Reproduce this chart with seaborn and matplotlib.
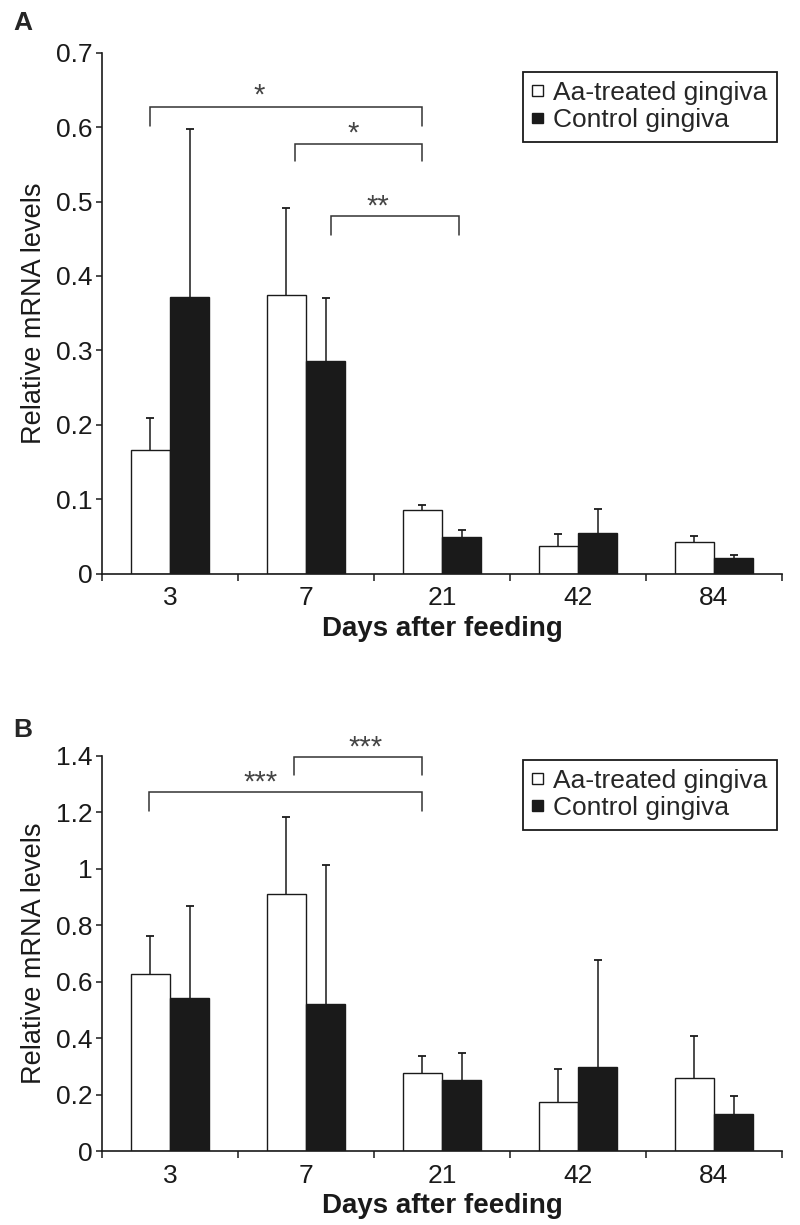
import numpy as np
import pandas as pd
import matplotlib
matplotlib.use("Agg")
import matplotlib.pyplot as plt
from matplotlib.patches import Patch
import seaborn as sns

# ---- data ----
days = ["3", "7", "21", "42", "84"]
groups = ["Aa-treated gingiva", "Control gingiva"]

a_treated = [0.166, 0.374, 0.086, 0.037, 0.042]
a_treated_sd = [0.043, 0.118, 0.006, 0.016, 0.009]
a_control = [0.372, 0.286, 0.049, 0.054, 0.021]
a_control_sd = [0.225, 0.085, 0.009, 0.033, 0.004]

b_treated = [0.626, 0.910, 0.276, 0.174, 0.257]
b_treated_sd = [0.137, 0.273, 0.060, 0.117, 0.151]
b_control = [0.541, 0.522, 0.252, 0.299, 0.132]
b_control_sd = [0.327, 0.491, 0.094, 0.379, 0.064]

a_yticks = [0, 0.1, 0.2, 0.3, 0.4, 0.5, 0.6, 0.7]
a_yticklabels = ["0", "0.1", "0.2", "0.3", "0.4", "0.5", "0.6", "0.7"]
b_yticks = [0, 0.2, 0.4, 0.6, 0.8, 1.0, 1.2, 1.4]
b_yticklabels = ["0", "0.2", "0.4", "0.6", "0.8", "1", "1.2", "1.4"]

# significance brackets: (x start, x end, y, leg bottom, star x, star y, text)
a_brackets = [
    (-0.1435, 1.8565, 0.627, 0.602, 0.654, 0.654, "*"),
    (0.919, 1.8565, 0.578, 0.554, 1.346, 0.603, "*"),
    (1.184, 2.125, 0.480, 0.455, 1.529, 0.505, "**"),
]
b_brackets = [
    (-0.154, 1.853, 1.271, 1.204, 0.662, 1.338, "***"),
    (0.912, 1.853, 1.398, 1.334, 1.441, 1.462, "***"),
]

INK = "#1a1a1a"
FS = 19

sns.set_theme(style="ticks")
plt.rcParams["font.family"] = ["Liberation Sans", "DejaVu Sans"]


def draw_panel(ax, treated, treated_sd, control, control_sd, yticks, yticklabels, brackets):
    df = pd.DataFrame({
        "day": days * 2,
        "group": [groups[0]] * len(days) + [groups[1]] * len(days),
        "value": treated + control,
    })
    sns.barplot(data=df, x="day", y="value", hue="group", order=days, hue_order=groups,
                palette=["white", INK], saturation=1, edgecolor=INK, linewidth=1.0,
                width=0.574, errorbar=None, legend=False, ax=ax)

    # one-sided (upper) error bars with a cap only at the top
    bars = ax.patches[:2 * len(days)]
    xs = np.array([p.get_x() + p.get_width() / 2 for p in bars])
    tops = np.array([p.get_height() for p in bars])
    sds = np.array(treated_sd + control_sd)
    ax.errorbar(xs, tops, yerr=[np.zeros(len(sds)), sds], fmt="none",
                ecolor=INK, elinewidth=1.1, capsize=0, zorder=3)
    ax.plot(xs, tops + sds, ls="none", marker="_", ms=5.5, mew=1.3, color=INK, zorder=3)

    for x0, x1, y, leg, sx, sy, txt in brackets:
        ax.plot([x0, x0, x1, x1], [leg, y, y, leg], color="#333333", lw=1.1,
                solid_joinstyle="miter", clip_on=False)
        ax.annotate(txt, xy=(sx, sy), xytext=(0, -6.5), textcoords="offset points",
                    ha="center", va="center", fontsize=21, color="#444444",
                    annotation_clip=False)

    ax.set_xlim(-0.5, len(days) - 0.5)
    ax.set_ylim(yticks[0], yticks[-1])
    ax.set_yticks(yticks)
    ax.set_yticklabels(yticklabels, fontsize=FS)
    ax.set_xticks(range(len(days)))
    ax.set_xticklabels(days, fontsize=FS)
    ax.set_xticks(np.arange(-0.5, len(days)), minor=True)
    ax.tick_params(axis="x", which="major", length=0, pad=9, colors=INK)
    ax.tick_params(axis="x", which="minor", length=5, width=1.1, direction="out", color=INK)
    ax.tick_params(axis="y", length=4, width=1.1, direction="out", pad=3, colors=INK)

    sns.despine(ax=ax)
    for s in ("left", "bottom"):
        ax.spines[s].set_linewidth(1.2)
        ax.spines[s].set_color(INK)

    ax.set_ylabel("Relative mRNA levels", fontsize=19.5, color=INK, va="center")
    ax.yaxis.set_label_coords(-0.1, 0.5)
    ax.set_xlabel("Days after feeding", fontsize=20, fontweight="bold",
                  color=INK, va="center")

    handles = [Patch(facecolor="white", edgecolor=INK, lw=1.0, label=groups[0]),
               Patch(facecolor=INK, edgecolor=INK, lw=1.0, label=groups[1])]
    return handles


def add_legend(ax, handles, top):
    leg = ax.legend(handles=handles, loc="upper right", bbox_to_anchor=(0.9926, top),
                    borderaxespad=0, fancybox=False, framealpha=1, edgecolor=INK,
                    fontsize=FS, handlelength=0.4, handleheight=0.24, handletextpad=0.4,
                    borderpad=0.35, labelspacing=0.12)
    leg.get_frame().set_linewidth(1.3)


fig = plt.figure(figsize=(8, 12.25), dpi=100)
ax_a = fig.add_axes([0.1275, 0.5318, 0.85, 0.4251])
ax_b = fig.add_axes([0.1275, 0.0604, 0.85, 0.3225])

h = draw_panel(ax_a, a_treated, a_treated_sd, a_control, a_control_sd,
               a_yticks, a_yticklabels, a_brackets)
ax_a.xaxis.set_label_coords(0.5, -55 / 520.8)
add_legend(ax_a, h, 0.963)

h = draw_panel(ax_b, b_treated, b_treated_sd, b_control, b_control_sd,
               b_yticks, b_yticklabels, b_brackets)
ax_b.xaxis.set_label_coords(0.5, -55 / 395)
add_legend(ax_b, h, 0.99)

fig.text(23 / 800, 1 - 23 / 1225, "A", fontsize=19, fontweight="bold", ha="center", va="center")
fig.text(23 / 800, 1 - 730 / 1225, "B", fontsize=19, fontweight="bold", ha="center", va="center")

fig.savefig("out.png", dpi=100)
